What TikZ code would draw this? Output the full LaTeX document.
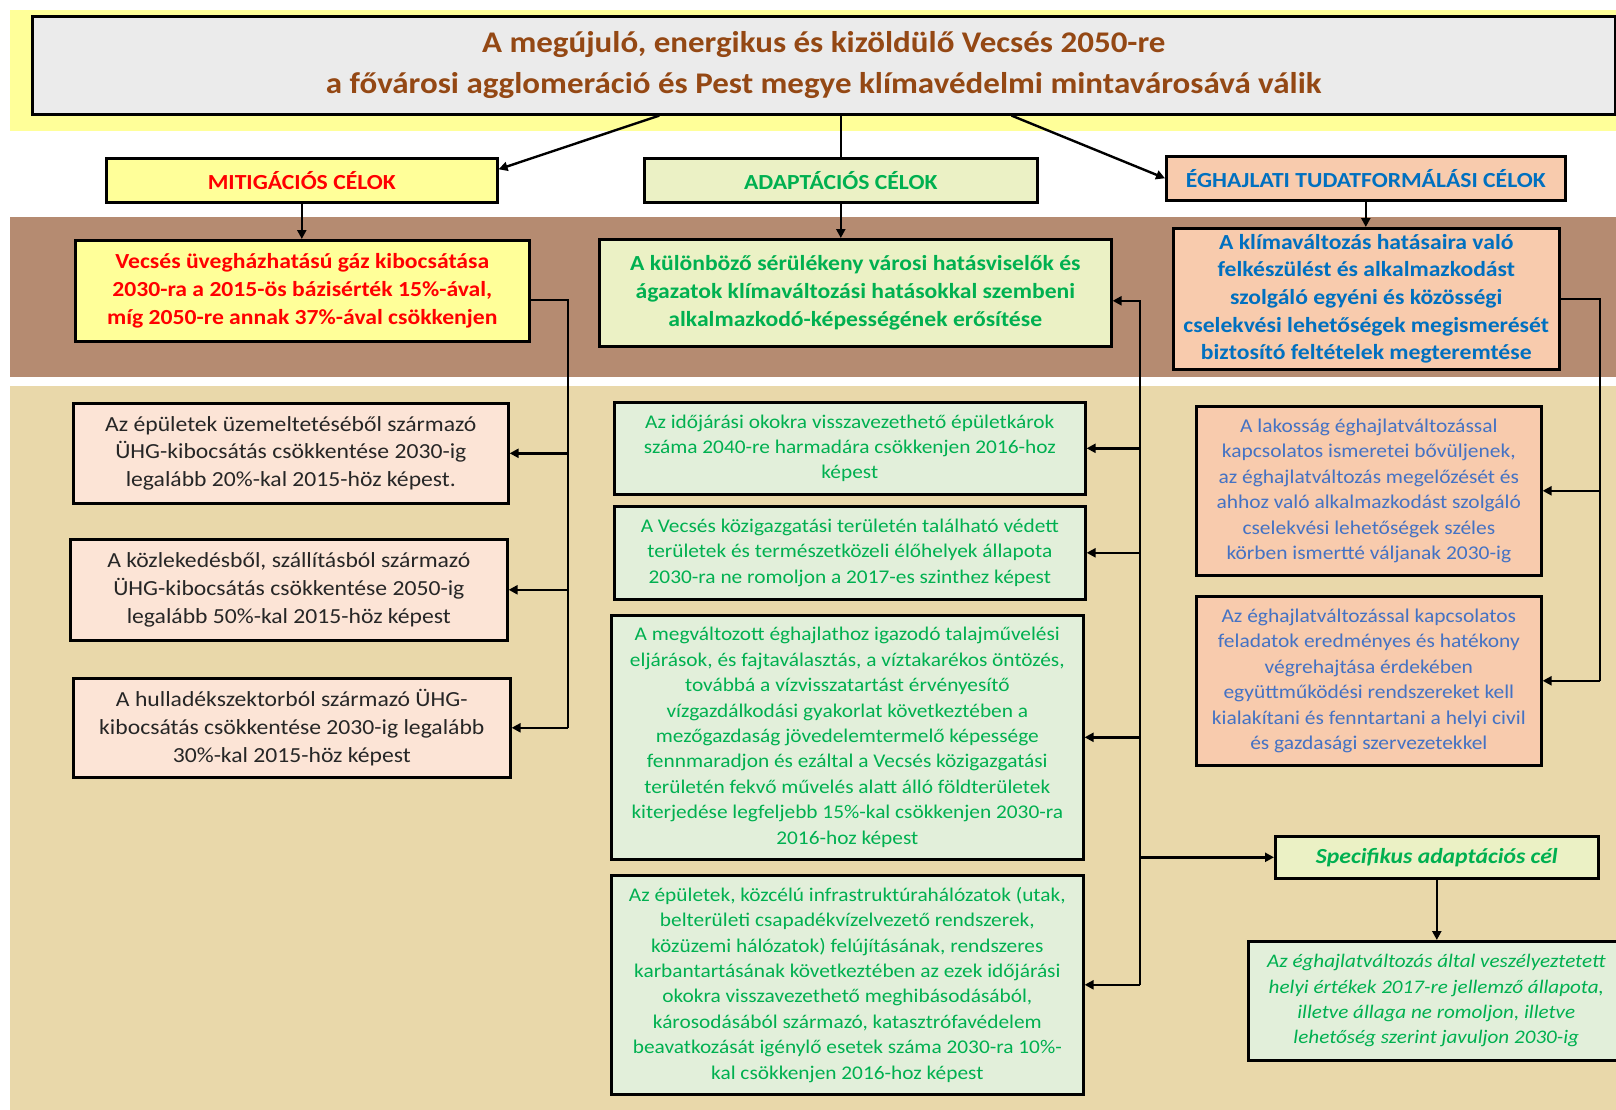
\documentclass[tikz,border=0pt]{standalone}
\usepackage{fontspec}
\setmainfont{Carlito}[FakeStretch=1.1]
\usetikzlibrary{arrows.meta}
\definecolor{bandyellow}{RGB}{255,255,153}
\definecolor{bandbrown}{RGB}{181,139,113}
\definecolor{bandtan}{RGB}{233,216,170}
\definecolor{titlegray}{RGB}{235,235,235}
\definecolor{titlebrown}{RGB}{148,72,20}
\definecolor{mitfill}{RGB}{255,255,153}
\definecolor{adfill}{RGB}{235,241,197}
\definecolor{egfill}{RGB}{248,203,173}
\definecolor{mitsub}{RGB}{252,228,214}
\definecolor{adsub}{RGB}{226,239,218}
\definecolor{mitred}{RGB}{255,0,0}
\definecolor{adgreen}{RGB}{0,176,80}
\definecolor{egblue}{RGB}{0,112,192}
\definecolor{egsubblue}{RGB}{68,114,196}
\definecolor{subgray}{RGB}{38,38,38}
\tikzset{
    plain-box/.style = {draw=black, line width=2.6pt, rectangle, anchor=north west, inner sep=0pt, align=center},
    title-box/.style = {plain-box, fill=titlegray, text=titlebrown, font=\bfseries\fontsize{30}{41}\selectfont},
    cat-box/.style = {plain-box, font=\bfseries\fontsize{21.5}{24}\selectfont},
    main-box/.style = {plain-box, font=\bfseries\fontsize{21.5}{27.7}\selectfont},
    mit-sub/.style = {plain-box, fill=mitsub, text=subgray, font=\fontsize{21.5}{27.8}\selectfont},
    ad-sub/.style = {plain-box, fill=adsub, text=adgreen, font=\fontsize{19.4}{25.4}\selectfont},
    eg-sub/.style = {plain-box, fill=egfill, text=egsubblue, font=\fontsize{19.5}{25.5}\selectfont},
    link-line/.style = {draw=black, line width=2.4pt},
    link-arrow/.style = {link-line, -{Triangle[length=9pt,width=9pt]}},
}

\begin{document}
\begin{tikzpicture}[x=1pt, y=-1pt]
\useasboundingbox (0,0) rectangle (1616,1110);
\fill[bandyellow] (10,10) rectangle (1616,131);
\fill[bandbrown] (10,217) rectangle (1616,377);
\fill[bandtan] (10,386) rectangle (1616,1110);

\node[title-box, minimum width=1583, minimum height=98] (title) at (31,15)
    {A megújuló, energikus és kizöldülő Vecsés 2050-re\\a fővárosi agglomeráció és Pest megye klímavédelmi mintavárosává válik};

\node[cat-box, fill=mitfill, text=mitred, minimum width=391, minimum height=44] (mitcat) at (105,157) {MITIGÁCIÓS CÉLOK};
\node[cat-box, fill=adfill, text=adgreen, minimum width=393, minimum height=44] (adcat) at (643,157) {ADAPTÁCIÓS CÉLOK};
\node[cat-box, fill=egfill, text=egblue, minimum width=399, minimum height=44] (egcat) at (1165,155) {ÉGHAJLATI TUDATFORMÁLÁSI CÉLOK};

\node[main-box, fill=mitfill, text=mitred, minimum width=454, minimum height=101] (mitmain) at (74,239)
    {Vecsés üvegházhatású gáz kibocsátása\\2030-ra a 2015-ös bázisérték 15\%-ával,\\míg 2050-re annak 37\%-ával csökkenjen};
\node[main-box, fill=adfill, text=adgreen, minimum width=512, minimum height=107] (admain) at (598,238)
    {A különböző sérülékeny városi hatásviselők és\\ágazatok klímaváltozási hatásokkal szembeni\\alkalmazkodó-képességének erősítése};
\node[main-box, fill=egfill, text=egblue, minimum width=386, minimum height=141] (egmain) at (1172,227)
    {A klímaváltozás hatásaira való\\felkészülést és alkalmazkodást\\szolgáló egyéni és közösségi\\cselekvési lehetőségek megismerését\\biztosító feltételek megteremtése};

\node[mit-sub, minimum width=435, minimum height=100] (m1) at (72,402)
    {Az épületek üzemeltetéséből származó\\ÜHG-kibocsátás csökkentése 2030-ig\\legalább 20\%-kal 2015-höz képest.};
\node[mit-sub, minimum width=437, minimum height=101] (m2) at (69,538)
    {A közlekedésből, szállításból származó\\ÜHG-kibocsátás csökkentése 2050-ig\\legalább 50\%-kal 2015-höz képest};
\node[mit-sub, minimum width=437, minimum height=99] (m3) at (72,677)
    {A hulladékszektorból származó ÜHG-\\kibocsátás csökkentése 2030-ig legalább\\30\%-kal 2015-höz képest};

\node[ad-sub, minimum width=471, minimum height=92] (a1) at (613,401)
    {Az időjárási okokra visszavezethető épületkárok\\száma 2040-re harmadára csökkenjen 2016-hoz\\képest};
\node[ad-sub, minimum width=471, minimum height=93] (a2) at (613,505)
    {A Vecsés közigazgatási területén található védett\\területek és természetközeli élőhelyek állapota\\2030-ra ne romoljon a 2017-es szinthez képest};
\node[ad-sub, minimum width=472, minimum height=244] (a3) at (610,614)
    {A megváltozott éghajlathoz igazodó talajművelési\\eljárások, és fajtaválasztás, a víztakarékos öntözés,\\továbbá a vízvisszatartást érvényesítő\\vízgazdálkodási gyakorlat következtében a\\mezőgazdaság jövedelemtermelő képessége\\fennmaradjon és ezáltal a Vecsés közigazgatási\\területén fekvő művelés alatt álló földterületek\\kiterjedése legfeljebb 15\%-kal csökkenjen 2030-ra\\2016-hoz képest};
\node[ad-sub, minimum width=472, minimum height=219] (a4) at (610,874)
    {Az épületek, közcélú infrastruktúrahálózatok (utak,\\belterületi csapadékvízelvezető rendszerek,\\közüzemi hálózatok) felújításának, rendszeres\\karbantartásának következtében az ezek időjárási\\okokra visszavezethető meghibásodásából,\\károsodásából származó, katasztrófavédelem\\beavatkozását igénylő esetek száma 2030-ra 10\%-\\kal csökkenjen 2016-hoz képest};

\node[eg-sub, minimum width=345, minimum height=169] (e1) at (1195,405)
    {A lakosság éghajlatváltozással\\kapcsolatos ismeretei bővüljenek,\\az éghajlatváltozás megelőzését és\\ahhoz való alkalmazkodást szolgáló\\cselekvési lehetőségek széles\\körben ismertté váljanak 2030-ig};
\node[eg-sub, minimum width=345, minimum height=169] (e2) at (1195,595)
    {Az éghajlatváltozással kapcsolatos\\feladatok eredményes és hatékony\\végrehajtása érdekében\\együttműködési rendszereket kell\\kialakítani és fenntartani a helyi civil\\és gazdasági szervezetekkel};

\node[cat-box, fill=adfill, text=adgreen, font=\bfseries\itshape\fontsize{21.5}{24}\selectfont, minimum width=323, minimum height=42] (spec) at (1274,835) {Specifikus adaptációs cél};
\node[ad-sub, font=\itshape\fontsize{19.2}{25.4}\selectfont, minimum width=376, minimum height=119] (fin) at (1247,940)
    {Az éghajlatváltozás által veszélyeztetett\\helyi értékek 2017-re jellemző állapota,\\illetve állaga ne romoljon, illetve\\lehetőség szerint javuljon 2030-ig};

\draw[link-arrow] (title.197) -- ([yshift=11pt]mitcat.east);
\draw[link-line] (title.south -| adcat.north) -- (adcat.north);
\draw[link-arrow] (title.345) -- (egcat.west);

\draw[link-arrow] (mitcat.south) -- (mitcat.south |- mitmain.north);
\draw[link-arrow] (adcat.south) -- (adcat.south |- admain.north);
\draw[link-arrow] (egcat.south) -- (egcat.south |- egmain.north);

\coordinate (mit-bus) at (568,0);
\draw[link-line] ([yshift=-9pt]mitmain.east) -| (mit-bus |- m3.east);
\foreach \sub in {m1,m2,m3}
    \draw[link-arrow] (mit-bus |- \sub.east) -- (\sub.east);

\coordinate (ad-bus) at (1140,0);
\draw[link-arrow] (ad-bus |- a4.east) |- ([yshift=-8pt]admain.east);
\foreach \sub in {a1,a2,a3,a4}
    \draw[link-arrow] (ad-bus |- \sub.east) -- (\sub.east);
\draw[link-arrow] (ad-bus |- spec.west) -- (spec.west);

\coordinate (eg-bus) at (1600,0);
\draw[link-line] (egmain.east) -| (eg-bus |- e2.east);
\foreach \sub in {e1,e2}
    \draw[link-arrow] (eg-bus |- \sub.east) -- (\sub.east);

\draw[link-arrow] (spec.south) -- (spec.south |- fin.north);
\end{tikzpicture}
\end{document}
